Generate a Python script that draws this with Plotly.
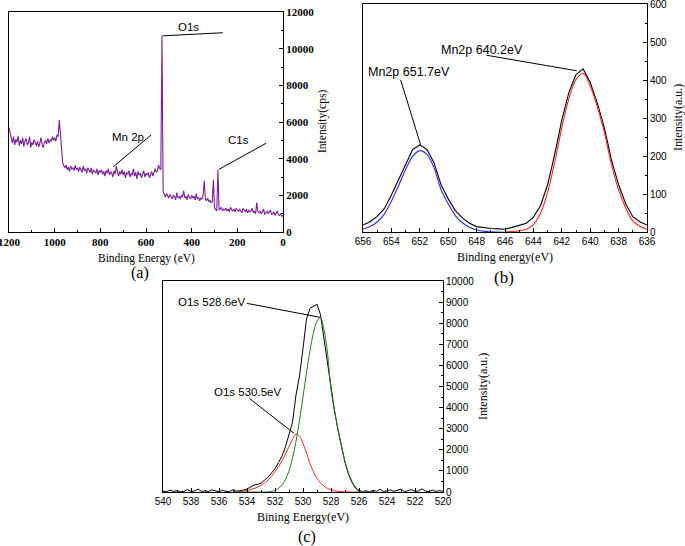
import numpy as np
import plotly.graph_objs as go

# ---- (a) survey spectrum, 1200 -> 0 eV every 5 eV
survey_be = np.arange(1200, -1, -5)
survey_cps = [
    5700, 5450, 5100, 4850, 5200, 4750, 5050, 4900, 5250, 4700,
    5000, 4800, 5150, 4650, 4950, 5100, 4750, 4850, 5200, 4600,
    4900, 4750, 5050, 4800, 4700, 4950, 4650, 4850, 5150, 4750,
    4600, 4900, 5000, 4800, 5100, 4850, 5050, 4950, 5200, 5000,
    5150, 4950, 5300, 5200, 6100, 5400, 4500, 3800, 3600, 3500,
    3650, 3400, 3550, 3300, 3600, 3450, 3500, 3350, 3650, 3400,
    3500, 3300, 3550, 3400, 3250, 3600, 3350, 3450, 3200, 3500,
    3350, 3250, 3500, 3150, 3400, 3300, 3200, 3450, 3100, 3350,
    3250, 3400, 3150, 3300, 3050, 3350, 3200, 3450, 3100, 3300,
    3200, 3000, 3350, 3150, 3600, 3250, 3050, 3300, 3150, 3400,
    3100, 3300, 2950, 3250, 3150, 3350, 3000, 3200, 3100, 3450,
    3050, 3250, 2900, 3300, 3100, 3200, 2950, 3150, 3350, 3000,
    3200, 3100, 3250, 2950, 3150, 3300, 3050, 3200, 3450, 3250,
    3350, 3650, 3450, 3400, 10700, 2200, 2050, 1900, 2100, 1950,
    1850, 2050, 1900, 1800, 2000, 1950, 1750, 2150, 1850, 1950,
    1800, 2000, 1900, 2250, 1850, 1950, 1750, 2050, 1900, 1800,
    2000, 1850, 1950, 1750, 2100, 1800, 1900, 1700, 1850, 1800,
    2000, 2800, 1800, 1700, 1850, 1650, 1750, 1600, 1650, 2850,
    1300, 1200, 1150, 3400, 1200, 1250, 1350, 1150, 1250, 1200,
    1300, 1150, 1250, 1100, 1350, 1200, 1150, 1250, 1100, 1300,
    1200, 1100, 1250, 1150, 1050, 1300, 1150, 1100, 1250, 1050,
    1200, 1100, 1150, 1300, 1050, 1150, 1000, 1600, 1100, 1050,
    1150, 1000, 1100, 1250, 950, 1050, 1150, 1000, 1100, 1200,
    950, 1050, 1100, 900, 1000, 1150, 950, 900, 1000, 850,
    900,
]

# ---- (b) Mn 2p
mn_be = np.arange(656, 635.9, -0.5)
mn_raw = [19, 28, 42, 62, 98, 138, 180, 218, 230, 218,
          183, 125, 88, 57, 38, 24, 15, 12, 10, 9,
          8, 13, 18, 24, 40, 70, 125, 205, 295, 368,
          415, 430, 395, 340, 275, 190, 125, 75, 41, 28, 19]
mn_be_hi = np.arange(656, 645.9, -0.5)
mn_fit_hi = [8, 15, 27, 48, 82, 122, 165, 200, 215, 205,
             170, 112, 75, 44, 25, 13, 6, 3, 1, 0.5, 0]
mn_be_lo = np.arange(646, 635.9, -0.5)
mn_fit_lo = [1, 2, 4, 8, 20, 50, 105, 185, 275, 352,
             402, 418, 385, 330, 262, 178, 112, 64, 30, 16, 8]

# ---- (c) O 1s
o_be = np.arange(540, 519.9, -0.25)
o_raw = [40, 20, 90, 30, 60, 10, 30, 120, 20, 50,
         140, 30, 60, 20, 100, 40, 10, 80, 30, 20,
         110, 40, 60, 90, 140, 250, 330, 360, 420, 560,
         700, 900, 1100, 1400, 1700, 2150, 2700, 3300, 4600, 5500,
         6800, 8200, 8700, 8800, 8900, 8400, 7200, 6100, 4850, 3850,
         2950, 2150, 1400, 850, 450, 180, 40, 20, 60, 10,
         80, 30, 130, 20, 50, 100, 30, 70, 140, 20,
         60, 110, 30, 50, 150, 40, 20, 90, 30, 60, 40]
o_be_fit = np.arange(535, 524.9, -0.25)
o_fit_high = [0, 10, 25, 45, 70, 110, 160, 230, 320, 430,
              570, 750, 960, 1200, 1480, 1800, 2150, 2500, 2750, 2650,
              2300, 1850, 1350, 950, 650, 430, 280, 170, 100, 60,
              35, 18, 8, 3, 1, 0, 0, 0, 0, 0, 0]
o_fit_low = [0, 0, 0, 0, 0, 0, 0, 0, 0, 0,
             0, 30, 80, 170, 330, 600, 1000, 1600, 2400, 3400,
             4500, 5650, 6700, 7550, 8100, 8250, 7700, 6600, 4850, 3850,
             2950, 2150, 1450, 900, 500, 230, 90, 30, 0, 0, 0]

W, H = 685, 546


def px(x, y):
    return x / W, 1 - y / H


serif = 'Liberation Serif, Times New Roman, serif'
sans = 'Liberation Sans, Arial, sans-serif'

fig = go.Figure()
fig.add_trace(go.Scatter(x=survey_be, y=survey_cps, mode='lines',
                         line=dict(color='#7a1f9c', width=1.1),
                         xaxis='x', yaxis='y'))
fig.add_trace(go.Scatter(x=mn_be, y=mn_raw, mode='lines',
                         line=dict(color='black', width=1.1),
                         xaxis='x2', yaxis='y2'))
fig.add_trace(go.Scatter(x=mn_be_hi, y=mn_fit_hi, mode='lines', line_shape='spline',
                         line=dict(color='#2a2aff', width=1.1),
                         xaxis='x2', yaxis='y2'))
fig.add_trace(go.Scatter(x=mn_be_lo, y=mn_fit_lo, mode='lines', line_shape='spline',
                         line=dict(color='#ff2222', width=1.1),
                         xaxis='x2', yaxis='y2'))
fig.add_trace(go.Scatter(x=o_be, y=o_raw, mode='lines',
                         line=dict(color='black', width=1),
                         xaxis='x3', yaxis='y3'))
fig.add_trace(go.Scatter(x=o_be_fit, y=o_fit_high, mode='lines', line_shape='spline',
                         line=dict(color='#e82a2a', width=1),
                         xaxis='x3', yaxis='y3'))
fig.add_trace(go.Scatter(x=o_be_fit, y=o_fit_low, mode='lines', line_shape='spline',
                         line=dict(color='#1f7f1f', width=1),
                         xaxis='x3', yaxis='y3'))


def xax(dom, rng, dtick, minor, anchor, font):
    return dict(domain=dom, range=rng, dtick=dtick, tick0=0, anchor=anchor,
                showline=True, mirror=True, linecolor='black', linewidth=1,
                ticks='inside', ticklen=4, tickcolor='black', showgrid=False,
                zeroline=False, tickfont=font, tickformat='d', automargin=False,
                ticklabeloverflow='allow',
                minor=dict(ticks='inside', ticklen=2, dtick=minor, tickcolor='black'))


def yax(dom, rng, dtick, minor, anchor, font):
    return dict(domain=dom, range=rng, dtick=dtick, tick0=0, anchor=anchor, side='right',
                showline=True, mirror=True, linecolor='black', linewidth=1,
                ticks='inside', ticklen=4, tickcolor='black', showgrid=False,
                zeroline=False, tickfont=font, tickformat='d', automargin=False,
                ticklabeloverflow='allow',
                minor=dict(ticks='inside', ticklen=2, dtick=minor, tickcolor='black'))


fa = dict(family=serif, size=11, color='black', weight='bold')
fb = dict(family=sans, size=10, color='black')

ann = []
lines = []


def note(text, x, y, size, family=sans, angle=0):
    ax_, ay_ = px(x, y)
    ann.append(dict(text=text, x=ax_, y=ay_, xref='paper', yref='paper', showarrow=False,
                    xanchor='center', yanchor='middle', textangle=angle,
                    font=dict(family=family, size=size, color='black')))


def leader(xr, yr, x0, y0, x1, y1):
    lines.append(dict(type='line', xref=xr, yref=yr, x0=x0, y0=y0, x1=x1, y1=y1,
                      line=dict(color='black', width=1)))


# panel (a)
note('O1s', 188.5, 27, 11.5)
note('Mn 2p', 127.5, 137, 11.5)
note('C1s', 238, 139.5, 11.5)
leader('x', 'y', 527, 10700, 264, 10870)
leader('x', 'y', 743, 3560, 578, 5290)
leader('x', 'y', 280, 3420, 74, 4840)
note('Binding Energy (eV)', 146, 258, 11.5, serif)
note('Intensity(cps)', 323, 122, 11.5, serif, -90)
note('(a)', 140, 272.5, 16, serif)

# panel (b)
note('Mn2p 640.2eV', 482, 50, 12.5)
note('Mn2p 651.7eV', 409, 72.5, 12.5)
leader('x2', 'y2', 647.3, 466, 640.95, 425)
leader('x2', 'y2', 653.35, 401, 651.94, 230)
note('Binding energy(eV)', 505, 257, 12, serif)
note('Intensity(a.u.)', 678, 118, 12, serif, -90)
note('(b)', 504, 277, 17, serif)

# panel (c)
note('O1s 528.6eV', 211.7, 302, 11.5)
note('O1s 530.5eV', 247.5, 391.5, 11.5)
leader('x3', 'y3', 534.0, 8940, 528.79, 8280)
leader('x3', 'y3', 533.84, 4440, 530.64, 2780)
note('Bining Energy(eV)', 303, 517, 12, serif)
note('Intensity(a.u.)', 483, 387, 12, serif, -90)
note('(c)', 307, 537, 16, serif)

layout = go.Layout(
    width=W, height=H, margin=dict(l=0, r=0, t=0, b=0, autoexpand=False),
    paper_bgcolor='white', plot_bgcolor='white', showlegend=False,
    xaxis=xax([9 / W, 283 / W], [1200, 0], 200, 100, 'y', fa),
    yaxis=yax([1 - 232 / H, 1 - 12 / H], [0, 12000], 2000, 1000, 'x', fa),
    xaxis2=xax([363 / W, 647 / W], [656, 636], 2, 1, 'y2', fb),
    yaxis2=yax([1 - 232.3 / H, 1 - 4.3 / H], [0, 600], 100, 50, 'x2', fb),
    xaxis3=xax([163 / W, 443 / W], [540, 520], 2, 1, 'y3', fb),
    yaxis3=yax([1 - 492 / H, 1 - 281 / H], [0, 10000], 1000, 500, 'x3', fb),
    annotations=ann, shapes=lines,
)
fig.update_layout(layout)
# page body has an 8px default margin; drop it so the figure sits at the corner
fig.write_html("out.html", config={'displayModeBar': False},
               post_script="document.body.style.margin='0';")
